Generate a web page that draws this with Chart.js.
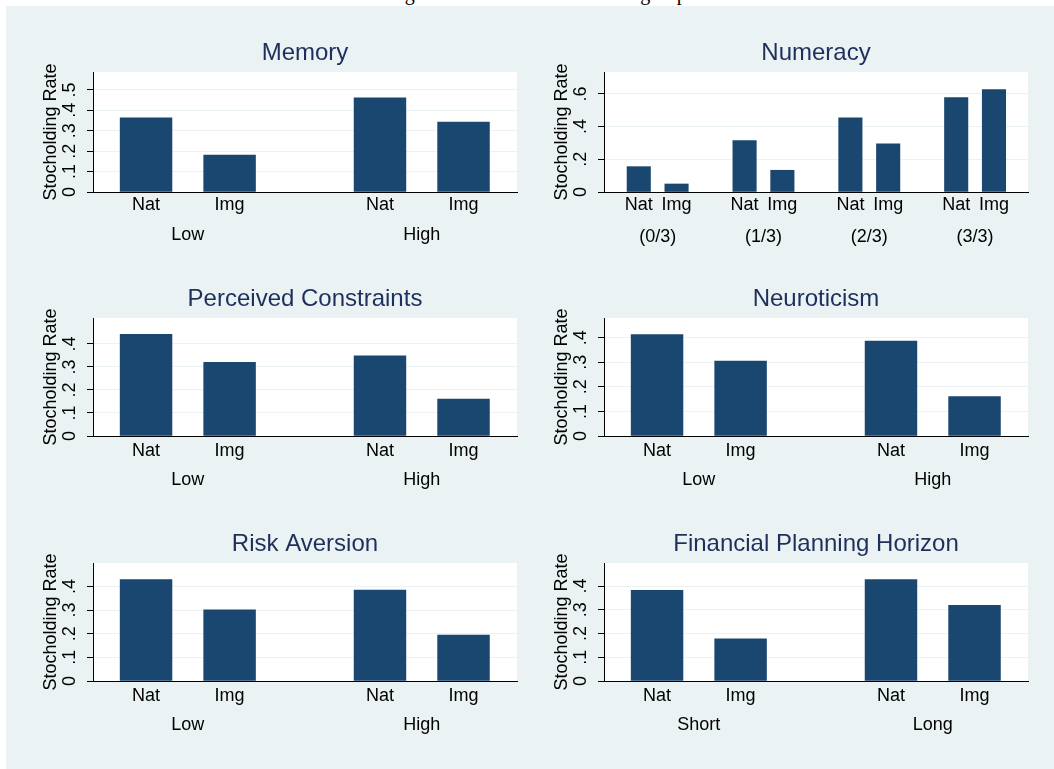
<!DOCTYPE html>
<html>
<head>
<meta charset="utf-8">
<script src="https://cdn.jsdelivr.net/npm/chart.js@4.4.1/dist/chart.umd.min.js"></script>
<style>
  body { margin: 0; width: 1054px; height: 769px; background: #fff; overflow: hidden; position: relative; }
  #bg { position: absolute; left: 6px; top: 6px; right: 0; bottom: 0; background: #eaf2f3; }
  #fig { position: absolute; left: 388px; top: -17.5px; font: 20px "Liberation Serif", "Times New Roman", serif; line-height: 20px; white-space: nowrap; color: #000; }
  canvas { position: absolute; }
</style>
</head>
<body>
<div id="bg"></div>
<div id="fig">Figure 4: Stockholder Rate Subgroups</div>
<canvas id="c0"></canvas>
<canvas id="c1"></canvas>
<canvas id="c2"></canvas>
<canvas id="c3"></canvas>
<canvas id="c4"></canvas>
<canvas id="c5"></canvas>
<script>
// values
const barLabels = ["Nat", "Img"];
const panelTitles = ["Memory", "Numeracy", "Perceived Constraints", "Neuroticism", "Risk Aversion", "Financial Planning Horizon"];
const yAxisTitle = "Stocholding Rate";

const memoryGroups = ["Low", "High"];
const memoryNat = [0.363, 0.461];
const memoryImg = [0.181, 0.343];

const numeracyGroups = ["(0/3)", "(1/3)", "(2/3)", "(3/3)"];
const numeracyNat = [0.155, 0.314, 0.454, 0.577];
const numeracyImg = [0.049, 0.133, 0.294, 0.626];

const constraintsGroups = ["Low", "High"];
const constraintsNat = [0.442, 0.349];
const constraintsImg = [0.320, 0.161];

const neuroticismGroups = ["Low", "High"];
const neuroticismNat = [0.413, 0.386];
const neuroticismImg = [0.305, 0.160];

const riskGroups = ["Low", "High"];
const riskNat = [0.429, 0.385];
const riskImg = [0.301, 0.194];

const horizonGroups = ["Short", "Long"];
const horizonNat = [0.382, 0.427];
const horizonImg = [0.178, 0.319];

const ticksToHalf = [0, 0.1, 0.2, 0.3, 0.4, 0.5];
const ticksToFour = [0, 0.1, 0.2, 0.3, 0.4];
const ticksByFifth = [0, 0.2, 0.4, 0.6];

// layout
const FONT = '"Liberation Sans", Arial, Helvetica, sans-serif';
const BAR = "#1a476f";
const GRID = "#eaf2f3";
const TITLE_COLOR = "#1e2f5c";
const Y_W = 60, X_H = 60, TITLE_H = 41, PLOT_W = 424, RIGHT_PAD = 8;
const GROUP_STEP = 2.8;

Chart.defaults.font.family = FONT;
Chart.defaults.font.size = 18;
Chart.defaults.color = "#000";

const panels = [
  { id: "c0", title: panelTitles[0], groups: memoryGroups, nat: memoryNat, img: memoryImg, ticks: ticksToHalf, yMax: 0.588, left: 93, top: 72, plotH: 120, xMin: -0.635, xMax: 4.44, lineH: 29.5, pad: -1.5 },
  { id: "c1", title: panelTitles[1], groups: numeracyGroups, nat: numeracyNat, img: numeracyImg, ticks: ticksByFifth, yMax: 0.734, left: 604, top: 72, plotH: 120, xMin: -0.92, xMax: 10.3, lineH: 32, pad: -3 },
  { id: "c2", title: panelTitles[2], groups: constraintsGroups, nat: constraintsNat, img: constraintsImg, ticks: ticksToFour, yMax: 0.513, left: 93, top: 318, plotH: 118, xMin: -0.635, xMax: 4.44, lineH: 29.2, pad: 0 },
  { id: "c3", title: panelTitles[3], groups: neuroticismGroups, nat: neuroticismNat, img: neuroticismImg, ticks: ticksToFour, yMax: 0.48, left: 604, top: 318, plotH: 118, xMin: -0.635, xMax: 4.44, lineH: 29.2, pad: 0 },
  { id: "c4", title: panelTitles[4], groups: riskGroups, nat: riskNat, img: riskImg, ticks: ticksToFour, yMax: 0.499, left: 93, top: 563, plotH: 118, xMin: -0.635, xMax: 4.44, lineH: 29.2, pad: 0 },
  { id: "c5", title: panelTitles[5], groups: horizonGroups, nat: horizonNat, img: horizonImg, ticks: ticksToFour, yMax: 0.497, left: 604, top: 563, plotH: 118, xMin: -0.635, xMax: 4.44, lineH: 29.2, pad: 0 }
];

function fmtRate(v) {
  if (Math.abs(v) < 1e-9) return "0";
  return v.toFixed(1).replace(/^0/, "");
}

// y labels in Stata are turned on their side
const sideTicks = {
  id: "sideTicks",
  afterDraw(chart) {
    const s = chart.scales.y, ctx = chart.ctx;
    ctx.save();
    ctx.fillStyle = "#000";
    ctx.font = "18px " + FONT;
    ctx.textAlign = "center";
    ctx.textBaseline = "middle";
    s.ticks.forEach(t => {
      ctx.save();
      ctx.translate(chart.chartArea.left - 23, s.getPixelForValue(t.value));
      ctx.rotate(-Math.PI / 2);
      ctx.fillText(fmtRate(t.value), 0, 0);
      ctx.restore();
    });
    ctx.restore();
  }
};

const whitePlot = {
  id: "whitePlot",
  beforeDraw(chart) {
    const a = chart.chartArea, ctx = chart.ctx;
    ctx.save();
    ctx.fillStyle = "#fff";
    ctx.fillRect(a.left, a.top, a.right - a.left, a.bottom - a.top);
    ctx.restore();
  }
};

function makeChart(p) {
  const canvas = document.getElementById(p.id);
  const W = Y_W + PLOT_W + RIGHT_PAD;
  const H = TITLE_H + p.plotH + X_H;
  canvas.width = W;
  canvas.height = H;
  canvas.style.width = W + "px";
  canvas.style.height = H + "px";
  canvas.style.left = (p.left - Y_W) + "px";
  canvas.style.top = (p.top - TITLE_H) + "px";

  const points = [];
  const xTicks = [];
  const xLabels = [];
  p.groups.forEach((g, i) => {
    const base = i * GROUP_STEP;
    points.push({ x: base, y: p.nat[i] });
    points.push({ x: base + 1, y: p.img[i] });
    xTicks.push(base, base + 0.5, base + 1);
    xLabels.push(barLabels[0], ["", g], barLabels[1]);
  });
  const slot = PLOT_W / (p.xMax - p.xMin);

  new Chart(canvas, {
    type: "bar",
    data: {
      datasets: [{
        data: points,
        backgroundColor: BAR,
        borderWidth: 0,
        barThickness: slot * 0.62
      }]
    },
    options: {
      responsive: false,
      animation: false,
      events: [],
      layout: { padding: { left: 0, right: RIGHT_PAD, top: 0, bottom: 0 } },
      plugins: {
        legend: { display: false },
        tooltip: { enabled: false },
        title: {
          display: true,
          text: p.title,
          color: TITLE_COLOR,
          fullSize: false,
          font: { size: 24, weight: "normal", lineHeight: 1.2 },
          padding: { top: 8.1, bottom: 4.1 }
        }
      },
      scales: {
        x: {
          type: "linear",
          offset: false,
          min: p.xMin,
          max: p.xMax,
          grid: { display: false, drawTicks: false },
          border: { display: true, color: "#000", width: 1, z: 1 },
          afterBuildTicks: s => { s.ticks = xTicks.map(v => ({ value: v })); },
          ticks: {
            autoSkip: false,
            maxRotation: 0,
            minRotation: 0,
            padding: p.pad,
            color: "#000",
            font: { size: 18, lineHeight: p.lineH / 18 },
            callback: (v, i) => xLabels[i]
          },
          afterFit: s => { s.height = X_H; }
        },
        y: {
          min: 0,
          max: p.yMax,
          afterBuildTicks: s => { s.ticks = p.ticks.map(v => ({ value: v })); },
          grid: { color: GRID, lineWidth: 1, drawTicks: true, tickLength: 6, tickColor: "#000" },
          border: { display: true, color: "#000", width: 1, z: 1 },
          ticks: { display: false },
          title: {
            display: true,
            text: yAxisTitle,
            color: "#000",
            font: { size: 18 },
            padding: { top: 7, bottom: 0 }
          },
          afterFit: s => { s.width = Y_W; }
        }
      }
    },
    plugins: [sideTicks, whitePlot]
  });
}

panels.forEach(makeChart);
</script>
</body>
</html>
